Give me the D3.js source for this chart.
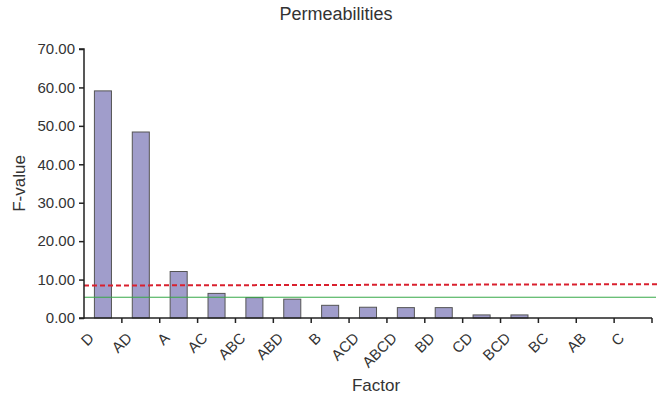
<!DOCTYPE html>
<html>
<head>
<meta charset="utf-8">
<script src="https://cdn.jsdelivr.net/npm/d3@7"></script>
<style>
  body { margin: 0; background: #fff; }
  svg { display: block; font-family: "Liberation Sans", Arial, sans-serif; }
</style>
</head>
<body>
<script>
var width = 661;
var height = 401;

// chart data
var factors = ['D', 'AD', 'A', 'AC', 'ABC', 'ABD', 'B', 'ACD', 'ABCD', 'BD', 'CD', 'BCD', 'BC', 'AB', 'C'];
var fValues = [59.1, 48.4, 12.1, 6.4, 5.3, 4.9, 3.3, 2.8, 2.7, 2.7, 0.8, 0.8, 0, 0, 0];
var yTicks = [0, 10, 20, 30, 40, 50, 60, 70];
var redLimit = [8.45, 8.8];   // dashed line, left and right end
var greenLimit = 5.4;

var margin = {top: 49, right: 9, bottom: 83, left: 84};

var svg = d3.select('body').append('svg')
  .attr('width', width)
  .attr('height', height);

var x = d3.scaleBand()
  .domain(factors)
  .range([margin.left, width - margin.right])
  .paddingInner(0)
  .paddingOuter(0);

var y = d3.scaleLinear()
  .domain([0, 70])
  .range([height - margin.bottom, margin.top]);

var barW = x.bandwidth() * 0.45;

// bars
svg.selectAll('.bar')
  .data(fValues)
  .enter().append('rect')
  .attr('class', 'bar')
  .attr('x', (d, i) => x(factors[i]) + (x.bandwidth() - barW) / 2)
  .attr('y', d => y(d))
  .attr('width', barW)
  .attr('height', d => y(0) - y(d))
  .attr('fill', '#a09dcb')
  .attr('stroke', '#555')
  .attr('stroke-width', 1);

// limit lines
svg.append('line')
  .attr('x1', x.range()[0])
  .attr('x2', x.range()[1] + 4)
  .attr('y1', y(greenLimit))
  .attr('y2', y(greenLimit))
  .attr('stroke', '#35a847')
  .attr('stroke-width', 1);

svg.append('line')
  .attr('x1', x.range()[0])
  .attr('x2', x.range()[1] + 8)
  .attr('y1', y(redLimit[0]))
  .attr('y2', y(redLimit[1]))
  .attr('stroke', '#d9202e')
  .attr('stroke-width', 2)
  .attr('stroke-dasharray', '5,3');

// y axis
var yAxis = d3.axisLeft(y)
  .tickValues(yTicks)
  .tickSize(5)
  .tickFormat(d3.format('.2f'));

var yG = svg.append('g')
  .attr('transform', 'translate(' + margin.left + ',0)')
  .call(yAxis);
yG.select('.domain').attr('d', 'M-5,' + y(70) + 'H0V' + y(0) + 'H-5');

// x axis: ticks at band boundaries
var xG = svg.append('g')
  .attr('transform', 'translate(0,' + y(0) + ')');
xG.append('line')
  .attr('x1', x.range()[0]).attr('x2', x.range()[1])
  .attr('stroke', '#222').attr('stroke-width', 1.5);
xG.selectAll('.xtick')
  .data(factors)
  .enter().append('line')
  .attr('class', 'xtick')
  .attr('x1', d => x(d) + x.bandwidth())
  .attr('x2', d => x(d) + x.bandwidth())
  .attr('y1', 0).attr('y2', 5)
  .attr('stroke', '#222').attr('stroke-width', 1.5);
xG.selectAll('.xlabel')
  .data(factors)
  .enter().append('text')
  .attr('class', 'xlabel')
  .attr('transform', d => 'translate(' + (x(d) + x.bandwidth() / 2 - 8) + ',21) rotate(-45)')
  .attr('text-anchor', 'end')
  .attr('fill', '#333')
  .style('font-size', '15px')
  .text(d => d);

yG.selectAll('.domain, .tick line')
  .attr('stroke', '#222')
  .attr('stroke-width', 1.5);
yG.selectAll('.tick text')
  .attr('fill', '#333')
  .attr('x', -9)
  .style('font-size', '15px')
  .style('font-family', '"Liberation Sans", Arial, sans-serif');

// titles
svg.append('text')
  .attr('x', 336)
  .attr('y', 20)
  .attr('text-anchor', 'middle')
  .attr('fill', '#333')
  .style('font-size', '18px')
  .text('Permeabilities');

svg.append('text')
  .attr('x', 376)
  .attr('y', 391)
  .attr('text-anchor', 'middle')
  .attr('fill', '#333')
  .style('font-size', '17px')
  .text('Factor');

svg.append('text')
  .attr('transform', 'translate(25,' + (margin.top + (height - margin.bottom - margin.top) / 2) + ') rotate(-90)')
  .attr('text-anchor', 'middle')
  .attr('fill', '#333')
  .style('font-size', '17px')
  .text('F-value');
</script>
</body>
</html>
